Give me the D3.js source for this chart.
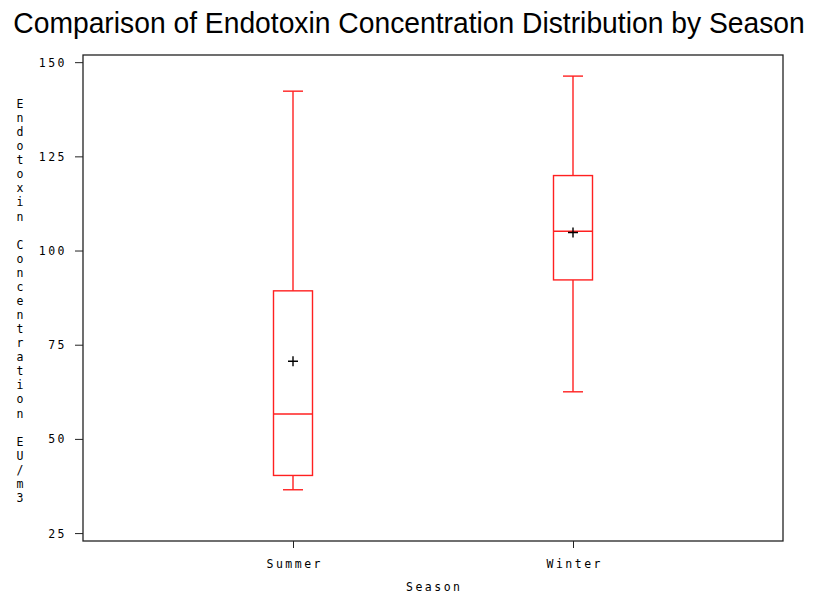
<!DOCTYPE html>
<html>
<head>
<meta charset="utf-8">
<script src="https://cdn.jsdelivr.net/npm/d3@7"></script>
<style>
  body { margin: 0; background: #fff; }
  .tickTxt { font-family: "DejaVu Sans Mono", monospace; font-size: 11.5px; letter-spacing: 2.5px; fill: #000; }
</style>
</head>
<body>
<div id="chart"></div>
<script>
// data
var seasons = ["Summer", "Winter"];
var whiskerLow = [36.5, 62.5];
var quart1 = [40.3, 92.2];
var medians = [56.6, 105.1];
var quart3 = [89.3, 119.9];
var whiskerHigh = [142.3, 146.3];
var means = [70.6, 104.8];
var yTicks = [25, 50, 75, 100, 125, 150];

var width = 814, height = 598;
var margin = {top: 55, right: 31, bottom: 57, left: 83};

var svg = d3.select("#chart").append("svg")
    .attr("width", width)
    .attr("height", height);

// title: squeezed sideways to the width it has in the picture
var title = svg.append("text")
    .attr("text-anchor", "middle")
    .attr("font-family", "Liberation Sans, Arial, sans-serif")
    .attr("font-size", 30)
    .text("Comparison of Endotoxin Concentration Distribution by Season");
var tw = title.node().getComputedTextLength();
var sx = Math.min(1, 792 / tw);
title.attr("transform", "translate(409,33) scale(" + sx + ",1)");

var x = d3.scalePoint()
    .domain(seasons)
    .range([margin.left, width - margin.right])
    .padding(0.75);

var y = d3.scaleLinear()
    .domain([22.9, 151.9])
    .range([height - margin.bottom, margin.top]);

// frame
svg.append("rect")
    .attr("x", margin.left)
    .attr("y", margin.top)
    .attr("width", width - margin.left - margin.right)
    .attr("height", height - margin.top - margin.bottom)
    .attr("fill", "none")
    .attr("stroke", "#222")
    .attr("stroke-width", 1.3);

// y axis
var yAxis = svg.append("g")
    .attr("transform", "translate(" + margin.left + ",0)")
    .call(d3.axisLeft(y).tickValues(yTicks).tickSize(8));
yAxis.select(".domain").remove();
yAxis.selectAll("text").attr("class", "tickTxt").attr("font-size", null).attr("font-family", null)
    .attr("dy", "0.35em").attr("x", -16);
yAxis.selectAll("line").attr("stroke", "#222");

// x axis
var xAxis = svg.append("g")
    .attr("transform", "translate(0," + (height - margin.bottom) + ")")
    .call(d3.axisBottom(x).tickSize(7).tickPadding(12));
xAxis.select(".domain").remove();
xAxis.selectAll("text").attr("class", "tickTxt").attr("font-size", null).attr("font-family", null)
    .attr("dx", "1.25px");
xAxis.selectAll("line").attr("stroke", "#222");

// axis titles
svg.append("text")
    .attr("class", "tickTxt")
    .attr("x", (margin.left + width - margin.right) / 2 + 1.25)
    .attr("y", 591)
    .attr("text-anchor", "middle")
    .text("Season");

// y title is drawn as upright letters stacked one under the other
var yLabel = "Endotoxin Concentration EU/m3".split("");
svg.append("g").selectAll("text")
    .data(yLabel)
    .enter().append("text")
    .attr("class", "tickTxt")
    .attr("x", 20)
    .attr("y", function(d, i) { return 108 + i * 14.07; })
    .attr("text-anchor", "middle")
    .style("letter-spacing", "0px")
    .text(function(d) { return d; });

// boxes
var boxW = 39, capW = 20;
var boxes = svg.append("g").selectAll("g")
    .data(seasons)
    .enter().append("g");

boxes.append("line")
    .attr("x1", function(d) { return x(d); })
    .attr("x2", function(d) { return x(d); })
    .attr("y1", function(d, i) { return y(whiskerHigh[i]); })
    .attr("y2", function(d, i) { return y(quart3[i]); });
boxes.append("line")
    .attr("x1", function(d) { return x(d); })
    .attr("x2", function(d) { return x(d); })
    .attr("y1", function(d, i) { return y(quart1[i]); })
    .attr("y2", function(d, i) { return y(whiskerLow[i]); });
boxes.append("line")
    .attr("x1", function(d) { return x(d) - capW / 2; })
    .attr("x2", function(d) { return x(d) + capW / 2; })
    .attr("y1", function(d, i) { return y(whiskerHigh[i]); })
    .attr("y2", function(d, i) { return y(whiskerHigh[i]); });
boxes.append("line")
    .attr("x1", function(d) { return x(d) - capW / 2; })
    .attr("x2", function(d) { return x(d) + capW / 2; })
    .attr("y1", function(d, i) { return y(whiskerLow[i]); })
    .attr("y2", function(d, i) { return y(whiskerLow[i]); });
boxes.append("rect")
    .attr("x", function(d) { return x(d) - boxW / 2; })
    .attr("width", boxW)
    .attr("y", function(d, i) { return y(quart3[i]); })
    .attr("height", function(d, i) { return y(quart1[i]) - y(quart3[i]); })
    .attr("fill", "none");
boxes.append("line")
    .attr("x1", function(d) { return x(d) - boxW / 2; })
    .attr("x2", function(d) { return x(d) + boxW / 2; })
    .attr("y1", function(d, i) { return y(medians[i]); })
    .attr("y2", function(d, i) { return y(medians[i]); });
boxes.selectAll("line, rect")
    .attr("stroke", "#ff2020")
    .attr("stroke-width", 1.4);

// mean markers
boxes.append("path")
    .attr("d", function(d, i) {
        var cx = x(d), cy = y(means[i]);
        return "M" + (cx - 5) + "," + cy + "H" + (cx + 5) + "M" + cx + "," + (cy - 5) + "V" + (cy + 5);
    })
    .attr("stroke", "#000")
    .attr("stroke-width", 1.4);
</script>
</body>
</html>
